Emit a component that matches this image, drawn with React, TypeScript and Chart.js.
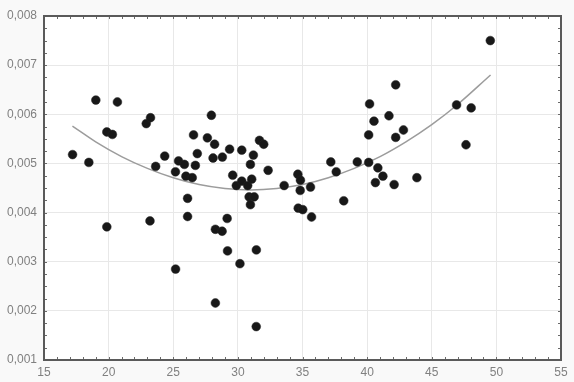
import React, { useEffect, useRef } from "react";
import { Chart, registerables } from "chart.js";

Chart.register(...registerables);

// Scatter data (x, y)
const pointX = [
  17.21, 18.47, 19.01, 19.86, 19.86, 20.29, 20.68, 22.91, 23.24, 23.2,
  23.64, 24.34, 25.17, 25.18, 25.41, 25.86, 25.98, 26.11, 26.11, 26.47,
  26.57, 26.71, 26.86, 27.64, 27.95, 28.2, 28.08, 28.26, 28.78, 28.26,
  28.8, 29.17, 29.2, 29.36, 29.6, 29.88, 30.16, 30.3, 30.3, 30.76,
  30.87, 30.97, 30.97, 31.07, 31.2, 31.26, 31.43, 31.42, 31.67, 32.0,
  32.34, 33.58, 34.64, 34.84, 34.82, 34.67, 35.02, 35.62, 35.7, 37.19,
  37.61, 38.19, 39.24, 40.12, 40.12, 40.19, 40.53, 40.83, 41.22, 40.64,
  41.69, 42.09, 42.21, 42.21, 42.81, 43.85, 46.92, 48.05, 47.65, 49.53,
];
const pointY = [
  0.00518, 0.00502, 0.00629, 0.00371, 0.00564, 0.00559, 0.00625, 0.00581, 0.00593, 0.00383,
  0.00494, 0.00515, 0.00483, 0.00285, 0.00505, 0.00498, 0.00474, 0.00429, 0.00392, 0.00471,
  0.00558, 0.00496, 0.0052, 0.00552, 0.00598, 0.00539, 0.00511, 0.00366, 0.00362, 0.00216,
  0.00513, 0.00388, 0.00322, 0.00529, 0.00476, 0.00455, 0.00296, 0.00527, 0.00464, 0.00455,
  0.00432, 0.00498, 0.00416, 0.00468, 0.00517, 0.00432, 0.00324, 0.00168, 0.00547, 0.00539,
  0.00486, 0.00455, 0.00478, 0.00466, 0.00445, 0.00409, 0.00406, 0.00452, 0.00391, 0.00503,
  0.00483, 0.00424, 0.00503, 0.00502, 0.00558, 0.00621, 0.00586, 0.00491, 0.00474, 0.00461,
  0.00597, 0.00457, 0.0066, 0.00553, 0.00568, 0.00471, 0.00619, 0.00613, 0.00538, 0.0075,
];

// Fitted curve
const fitX = [17.2, 19, 21, 23, 25, 27, 29, 31, 33, 35, 37, 39, 41, 43, 45, 47, 49.55];
const fitY = [
  0.00576, 0.00544, 0.00514, 0.0049, 0.00471, 0.00457, 0.00449, 0.00446, 0.00449,
  0.00457, 0.00471, 0.0049, 0.00514, 0.00544, 0.00579, 0.0062, 0.0068,
];

const X_MIN = 15, X_MAX = 55, X_STEP = 5, X_MINOR = 1;
const Y_MIN = 0.001, Y_MAX = 0.008, Y_STEP = 0.001, Y_MINOR = 0.00025;

const FONT = "'Liberation Sans', Arial, sans-serif";

const framePlugin = {
  id: "frame",
  beforeDraw(chart: any) {
    const { ctx, chartArea: a } = chart;
    ctx.save();
    ctx.fillStyle = "#ffffff";
    ctx.fillRect(a.left, a.top, a.right - a.left, a.bottom - a.top);
    ctx.restore();
  },
  afterDraw(chart: any) {
    const { ctx, chartArea: a, scales } = chart;
    ctx.save();
    ctx.strokeStyle = "#6a6a6a";
    ctx.lineWidth = 1;
    const len = 3;
    ctx.beginPath();
    for (let v = X_MIN; v <= X_MAX + 1e-9; v += X_MINOR) {
      const px = Math.round(scales.x.getPixelForValue(v)) + 0.5;
      ctx.moveTo(px, a.bottom);
      ctx.lineTo(px, a.bottom - len);
      ctx.moveTo(px, a.top);
      ctx.lineTo(px, a.top + len);
    }
    for (let v = Y_MIN; v <= Y_MAX + 1e-9; v += Y_MINOR) {
      const py = Math.round(scales.y.getPixelForValue(v)) + 0.5;
      ctx.moveTo(a.left, py);
      ctx.lineTo(a.left + len, py);
      ctx.moveTo(a.right, py);
      ctx.lineTo(a.right - len, py);
    }
    ctx.stroke();
    ctx.strokeStyle = "#5a5a5a";
    ctx.lineWidth = 2;
    ctx.strokeRect(a.left, a.top, a.right - a.left, a.bottom - a.top);
    ctx.restore();
  },
};

export default function App() {
  const ref = useRef<HTMLCanvasElement | null>(null);

  useEffect(() => {
    if (!ref.current) return;
    const scatter = pointX.map((x, i) => ({ x, y: pointY[i] }));
    const fit = fitX.map((x, i) => ({ x, y: fitY[i] }));
    const chart = new Chart(ref.current, {
      type: "scatter",
      data: {
        datasets: [
          {
            type: "line",
            data: fit,
            borderColor: "#9c9c9c",
            borderWidth: 1.5,
            pointRadius: 0,
            tension: 0.4,
            fill: false,
            order: 2,
          } as any,
          {
            data: scatter,
            backgroundColor: "#181818",
            borderColor: "#262626",
            borderWidth: 0.5,
            pointRadius: 4.4,
            order: 1,
          },
        ],
      },
      options: {
        responsive: false,
        animation: false,
        layout: { padding: { top: 16, right: 13, left: 0, bottom: 0 } },
        plugins: { legend: { display: false }, tooltip: { enabled: false } },
        scales: {
          x: {
            type: "linear",
            min: X_MIN,
            max: X_MAX,
            ticks: {
              stepSize: X_STEP,
              color: "#808080",
              font: { family: FONT, size: 12 },
              padding: 5,
              maxRotation: 0,
            },
            grid: { color: "#e8e8e8", drawTicks: false },
            border: { display: false },
            afterFit: (s: any) => {
              s.height = 22;
            },
          },
          y: {
            type: "linear",
            min: Y_MIN,
            max: Y_MAX,
            ticks: {
              stepSize: Y_STEP,
              color: "#808080",
              font: { family: FONT, size: 12 },
              padding: 7,
              callback: (v: any) => Number(v).toFixed(3).replace(".", ","),
            },
            grid: { color: "#e8e8e8", drawTicks: false },
            border: { display: false },
            afterFit: (s: any) => {
              s.width = 44;
            },
          },
        },
      },
      plugins: [framePlugin],
    });
    return () => chart.destroy();
  }, []);

  return (
    <div
      style={{
        position: "fixed",
        left: 0,
        top: 0,
        width: 574,
        height: 382,
        background: "#f9f9f9",
      }}
    >
      <canvas ref={ref} width={574} height={382} />
    </div>
  );
}
